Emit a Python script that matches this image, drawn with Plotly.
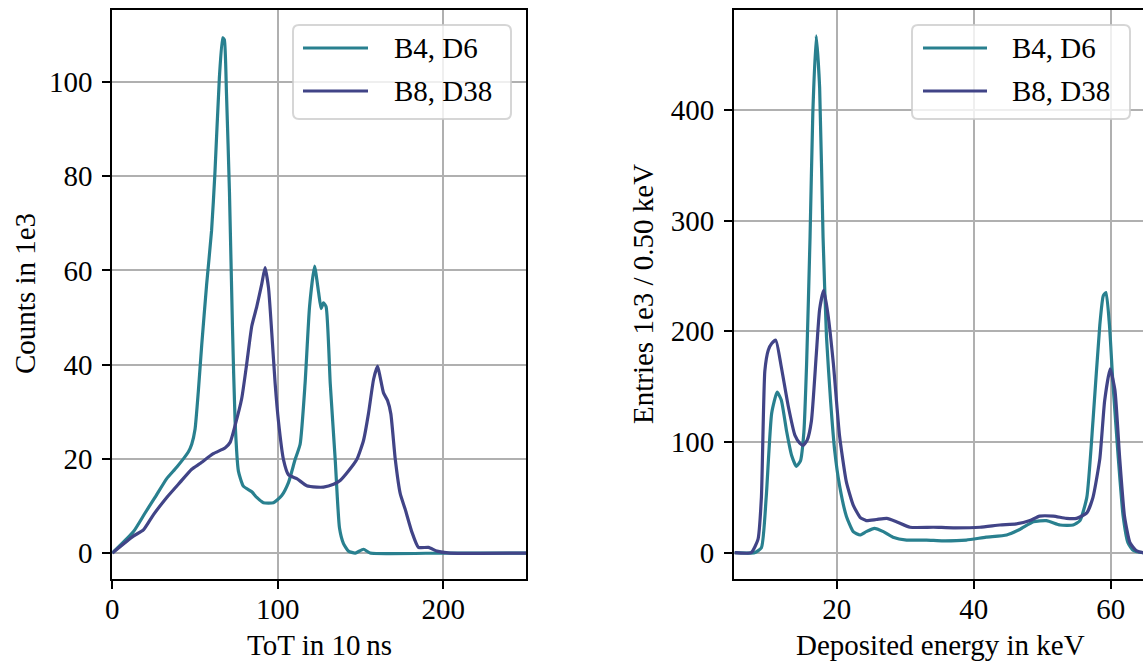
import plotly.graph_objects as go

# ---- ToT spectra (counts in 1e3) ----
tot_b4_x = [0, 12.7, 19.8, 25.8, 32.9, 38.9, 46.0, 48.0, 50.0, 52.0, 54.0, 57.0, 60.0, 62.0,
            64.7, 66.7, 67.7, 69.0, 70.8, 72.6, 74.2, 76.2, 79.2, 84.3, 87.3, 91.3, 97.4,
            102.4, 106.5, 110.5, 113.5, 116.5, 119.2, 122.2, 124.6, 126.2, 127.6, 129.2,
            131.7, 134.7, 137.3, 139.7, 142.7, 146.8, 151.8, 155.8, 200.0, 250.0]
tot_b4_y = [0, 4.5, 8.5, 11.8, 15.8, 18.2, 21.5, 23.1, 26.3, 34.4, 44.0, 57.0, 68.5, 80.6,
            100.9, 109.4, 109.0, 97.6, 76.6, 48.2, 28.0, 17.4, 14.2, 13.0, 11.8, 10.7, 10.7,
            12.2, 15.0, 19.9, 23.1, 36.0, 52.3, 60.9, 55.5, 51.9, 53.1, 52.3,
            36.0, 19.9, 5.3, 2.0, 0.4, 0.0, 0.8, 0.0, 0.0, 0.0]

tot_b8_x = [0, 12.7, 18.8, 24.8, 32.9, 40.9, 48.0, 53.0, 61.0, 68.1, 71.2, 74.2, 78.2, 81.2,
            84.3, 87.3, 90.3, 92.3, 94.4, 96.4, 98.4, 100.4, 103.4, 106.5, 111.5, 117.5,
            123.6, 127.6, 133.7, 137.7, 142.7, 147.8, 151.8, 154.8, 157.9, 160.3, 161.9,
            163.9, 166.3, 168.3, 171.0, 174.0, 177.0, 181.0, 185.0, 191.1, 196.2, 204.2, 250.0]
tot_b8_y = [0, 3.6, 4.9, 8.1, 11.8, 15.0, 17.8, 19.0, 21.1, 22.3, 23.5, 27.1, 32.8, 40.1,
            48.2, 52.3, 57.1, 60.6, 56.3, 46.6, 36.0, 28.0, 19.9, 16.6, 15.8, 14.3,
            14.0, 14.0, 14.6, 15.4, 17.4, 19.9, 23.9, 29.6, 36.9, 39.7, 37.3,
            34.0, 32.4, 29.6, 19.9, 12.6, 9.3, 4.5, 1.2, 1.2, 0.4, 0.0, 0.0]

# ---- Energy spectra (entries 1e3 / 0.50 keV) ----
e_b4_x = [5.1, 8.0, 9.0, 9.7, 10.5, 11.3, 11.9, 12.7, 13.4, 14.1, 14.7, 15.2, 15.6, 16.1,
          16.5, 17.0, 17.5, 18.0, 18.5, 19.1, 19.7, 20.4, 21.4, 22.4, 23.4, 24.3, 25.5,
          26.8, 28.2, 30.2, 33.1, 35.5, 38.9, 41.8, 44.8, 46.7, 48.7, 50.6, 52.6, 54.5,
          55.5, 56.5, 57.4, 58.4, 58.9, 59.3, 59.8, 60.3, 61.1, 61.8, 62.5, 63.3, 64.7, 66.0]
e_b4_y = [0, 0, 4.5, 50, 126, 145, 138, 109, 88, 78, 83, 109, 171, 285,
          396, 467, 420, 285, 195, 137, 92, 61, 33, 19, 16, 19, 22,
          19, 14, 11.4, 11.4, 10.7, 11.4, 14, 16, 21, 28, 29, 25, 25,
          29, 50, 119, 206, 232, 235, 206, 154, 85, 33, 9, 2, 0, 0]

e_b8_x = [5.1, 7.5, 8.5, 9.0, 9.5, 10.0, 10.5, 11.1, 11.9, 12.9, 13.9, 14.6, 15.1, 15.7,
          16.3, 17.0, 17.5, 18.1, 18.7, 19.5, 20.4, 21.4, 22.4, 23.4, 24.3, 25.8, 27.3,
          28.7, 30.7, 34.1, 37.0, 40.9, 43.8, 46.2, 48.2, 49.6, 51.6, 53.5, 55.0, 56.5,
          57.4, 58.4, 59.1, 59.9, 60.6, 61.3, 62.0, 62.8, 63.7, 64.7, 66.0]
e_b8_y = [0, 0, 12, 50, 164, 183, 189, 192, 168, 133, 106, 99, 97, 102,
          119, 178, 220, 237, 216, 171, 106, 64, 43, 32, 29, 30, 31,
          28, 23, 23, 22.5, 23, 25, 26, 29, 33, 33, 31, 31, 36,
          50, 85, 137, 166, 147, 85, 33, 9, 2, 0, 0]

names = ["B4, D6", "B8, D38"]
colors = ["#29808f", "#414487"]

W, H = 1143, 663
FONT = "Liberation Serif"
FS = 29
LW = 3.2


def fx(p):
    return p / W


def fy(p):
    return 1 - p / H


fig = go.Figure()
for xs, ys, nm, c in [(tot_b4_x, tot_b4_y, names[0], colors[0]),
                      (tot_b8_x, tot_b8_y, names[1], colors[1])]:
    fig.add_trace(go.Scatter(x=xs, y=ys, name=nm, mode="lines",
                             line=dict(color=c, width=LW, shape="spline", smoothing=0.5),
                             xaxis="x", yaxis="y", showlegend=False))
for xs, ys, nm, c in [(e_b4_x, e_b4_y, names[0], colors[0]),
                      (e_b8_x, e_b8_y, names[1], colors[1])]:
    fig.add_trace(go.Scatter(x=xs, y=ys, name=nm, mode="lines",
                             line=dict(color=c, width=LW, shape="spline", smoothing=0.5),
                             xaxis="x2", yaxis="y2", showlegend=False))

axis_common = dict(showline=True, linecolor="black", linewidth=2, ticks="outside",
                   ticklen=8, tickwidth=1.5, tickcolor="black", showgrid=True,
                   gridcolor="#b0b0b0", gridwidth=1.5, zeroline=False,
                   tickfont=dict(family=FONT, size=FS, color="black"), automargin=False)

ydom = [fy(578.7), fy(10)]
fig.update_layout(
    width=W, height=H, margin=dict(l=0, r=0, t=0, b=0),
    plot_bgcolor="white", paper_bgcolor="white", showlegend=False,
    xaxis=dict(domain=[fx(112.3), fx(526)], range=[0, 250], dtick=100, mirror=True,
               anchor="y", ticklabelstandoff=-5, **axis_common),
    yaxis=dict(domain=ydom, range=[-5.45, 115.3], dtick=20, mirror=True,
               anchor="x", ticklabelstandoff=4, **axis_common),
    xaxis2=dict(domain=[fx(734), 1.0], range=[5.0, 64.7], tickvals=[20, 40, 60], mirror=True,
                anchor="y2", ticklabelstandoff=-5, **axis_common),
    yaxis2=dict(domain=ydom, range=[-23.5, 490.3], dtick=100, mirror=False,
                anchor="x2", ticklabelstandoff=4, **axis_common),
)

# axis titles
tfont = dict(family=FONT, size=FS, color="black")
ann = [
    dict(text="ToT in 10\u2009ns", x=fx(319), y=fy(645), xref="paper", yref="paper",
         xanchor="center", yanchor="middle", showarrow=False, font=tfont),
    dict(text="Counts in 1e3", x=fx(25), y=fy(294), xref="paper", yref="paper",
         xanchor="center", yanchor="middle", showarrow=False, font=tfont, textangle=-90),
    dict(text="Deposited energy in keV", x=fx(940), y=fy(645), xref="paper", yref="paper",
         xanchor="center", yanchor="middle", showarrow=False, font=tfont),
    dict(text="Entries 1e3 / 0.50 keV", x=fx(643), y=fy(294), xref="paper", yref="paper",
         xanchor="center", yanchor="middle", showarrow=False, font=tfont, textangle=-90),
]


def rounded_box(x0, y0, x1, y1, r):
    # path in paper fractions built from pixel corners
    pts = [
        f"M{fx(x0 + r)},{fy(y0)}",
        f"L{fx(x1 - r)},{fy(y0)}",
        f"Q{fx(x1)},{fy(y0)} {fx(x1)},{fy(y0 + r)}",
        f"L{fx(x1)},{fy(y1 - r)}",
        f"Q{fx(x1)},{fy(y1)} {fx(x1 - r)},{fy(y1)}",
        f"L{fx(x0 + r)},{fy(y1)}",
        f"Q{fx(x0)},{fy(y1)} {fx(x0)},{fy(y1 - r)}",
        f"L{fx(x0)},{fy(y0 + r)}",
        f"Q{fx(x0)},{fy(y0)} {fx(x0 + r)},{fy(y0)}",
        "Z",
    ]
    return " ".join(pts)


shapes = []
# legend boxes: (box left, line start, line end, text start)
for bx0, lx0, lx1, tx in [(293, 303, 368, 392), (912, 923, 987, 1010)]:
    shapes.append(dict(type="path", path=rounded_box(bx0, 25, bx0 + 218, 119, 6),
                       xref="paper", yref="paper", fillcolor="rgba(255,255,255,0.8)",
                       line=dict(color="rgba(204,204,204,0.8)", width=2), layer="above"))
    for i, ly in enumerate([48, 91]):
        shapes.append(dict(type="line", x0=fx(lx0), x1=fx(lx1), y0=fy(ly), y1=fy(ly),
                           xref="paper", yref="paper",
                           line=dict(color=colors[i], width=LW), layer="above"))
        ann.append(dict(text=names[i], x=fx(tx), y=fy(ly), xref="paper", yref="paper",
                        xanchor="left", yanchor="middle", showarrow=False, font=tfont))

fig.update_layout(annotations=ann, shapes=shapes)
fig.write_html("out.html")
